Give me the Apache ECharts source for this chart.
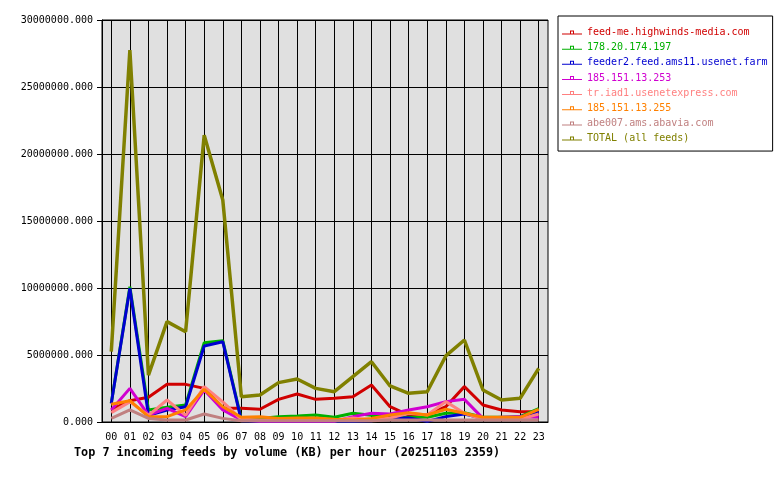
<!DOCTYPE html>
<html>
<head>
<meta charset="utf-8">
<script src="https://cdn.jsdelivr.net/npm/echarts@6/dist/echarts.min.js"></script>
<style>html,body{margin:0;padding:0;background:#fff}#c{width:780px;height:480px}</style>
</head>
<body>
<div id="c"></div>
<script>
const hours = ['00','01','02','03','04','05','06','07','08','09','10','11','12','13','14','15','16','17','18','19','20','21','22','23'];
const seriesNames = ['feed-me.highwinds-media.com','178.20.174.197','feeder2.feed.ams11.usenet.farm','185.151.13.253','tr.iad1.usenetexpress.com','185.151.13.255','abe007.ams.abavia.com','TOTAL (all feeds)'];
const feedMe  = [900000,1590000,1840000,2810000,2810000,2510000,1020000,1020000,950000,1690000,2090000,1690000,1770000,1890000,2760000,1140000,520000,520000,1140000,2640000,1270000,900000,770000,770000];
const f178    = [1400000,10100000,900000,1100000,1270000,5920000,6070000,200000,270000,400000,450000,520000,350000,650000,500000,320000,350000,350000,650000,700000,350000,350000,400000,1000000];
const feeder2 = [1390000,9980000,500000,900000,1140000,5670000,5990000,100000,50000,50000,50000,50000,50000,50000,100000,300000,300000,50000,400000,600000,270000,300000,400000,770000];
const f253    = [900000,2510000,520000,1020000,400000,2390000,900000,150000,50000,50000,50000,50000,50000,400000,650000,600000,900000,1140000,1520000,1690000,270000,350000,400000,350000];
const trIad1  = [700000,1500000,500000,1640000,500000,2640000,1500000,200000,150000,150000,150000,150000,150000,300000,150000,300000,650000,520000,1520000,650000,200000,200000,200000,600000];
const f255    = [1320000,1590000,400000,400000,900000,2440000,1140000,350000,400000,270000,300000,300000,200000,150000,270000,520000,700000,520000,950000,650000,350000,350000,350000,950000];
const abe007  = [270000,900000,270000,150000,150000,600000,270000,100000,100000,100000,100000,100000,100000,100000,100000,150000,150000,150000,150000,150000,150000,150000,150000,150000];
const total   = [5250000,27760000,3500000,7490000,6740000,21400000,16570000,1890000,2010000,2940000,3210000,2510000,2260000,3380000,4500000,2690000,2140000,2260000,4930000,6120000,2390000,1640000,1770000,4000000];
const yTicks = [0,5000000,10000000,15000000,20000000,25000000,30000000];
const titleText = 'Top 7 incoming feeds by volume (KB) per hour (20251103 2359)';

const colors = ['#d00000','#00b000','#0000d0','#d000d0','#ff8080','#ff8000','#c08080','#808000'];
const dataSets = [feedMe,f178,feeder2,f253,trIad1,f255,abe007,total];
const mono = '"DejaVu Sans Mono", monospace';

const chart = echarts.init(document.getElementById('c'), null, {renderer:'canvas'});
const gridDivs = [];
for (let i = 0; i < hours.length*2+1; i++) gridDivs.push('d'+i);

chart.setOption({
  backgroundColor: '#ffffff',
  animation: false,
  title: {
    text: titleText, left: 69, top: 442,
    textStyle: {fontFamily: mono, fontSize: 11.8, fontWeight: 'bold', color: '#000'}
  },
  legend: {
    orient: 'vertical', left: 558, top: 16,
    padding: [9, 5, 5, 4],
    itemGap: 0.15, itemWidth: 20, itemHeight: 4,
    borderColor: '#000', borderWidth: 1, backgroundColor: '#fff',
    icon: 'path://M0,3H20V4H0Z M8,0H12V1H8Z M8,0H9V3H8Z M11,0H12V3H11Z',
    textStyle: {fontFamily: mono, fontSize: 10, lineHeight: 15},
    data: seriesNames.map((n,i)=>({name:n, textStyle:{color:colors[i]}}))
  },
  grid: {
    left: 102, right: 232, top: 20, bottom: 58,
    show: true, backgroundColor: '#e0e0e0', borderColor: '#000', borderWidth: 1
  },
  xAxis: [{
    type: 'category', data: hours, boundaryGap: true,
    axisLine: {lineStyle: {color: '#000'}},
    axisTick: {alignWithLabel: true, length: 4, lineStyle: {color: '#000'}},
    axisLabel: {fontFamily: mono, fontSize: 10, color: '#000', margin: 10, interval: 0},
    splitLine: {show: false}
  },{
    type: 'category', data: gridDivs, boundaryGap: false, position: 'bottom',
    axisLine: {show: false}, axisTick: {show: false}, axisLabel: {show: false},
    splitLine: {show: true, interval: (i)=> i % 2 === 1, lineStyle: {color: '#000', width: 1}}
  }],
  yAxis: {
    type: 'value', min: yTicks[0], max: yTicks[yTicks.length-1], interval: yTicks[1]-yTicks[0],
    axisLine: {show: true, lineStyle: {color: '#000'}},
    axisTick: {show: true, length: 5, lineStyle: {color: '#000'}},
    axisLabel: {fontFamily: mono, fontSize: 10, color: '#000', margin: 9, formatter: v => v.toFixed(3)},
    splitLine: {show: true, lineStyle: {color: '#000', width: 1}}
  },
  series: seriesNames.map((n,i)=>({
    name: n, type: 'line', data: dataSets[i], xAxisIndex: 0,
    symbol: 'none', smooth: false,
    lineStyle: {color: colors[i], width: i === 7 ? 3.5 : 3},
    itemStyle: {color: colors[i]},
    z: 3 + i
  }))
});
</script>
</body>
</html>
